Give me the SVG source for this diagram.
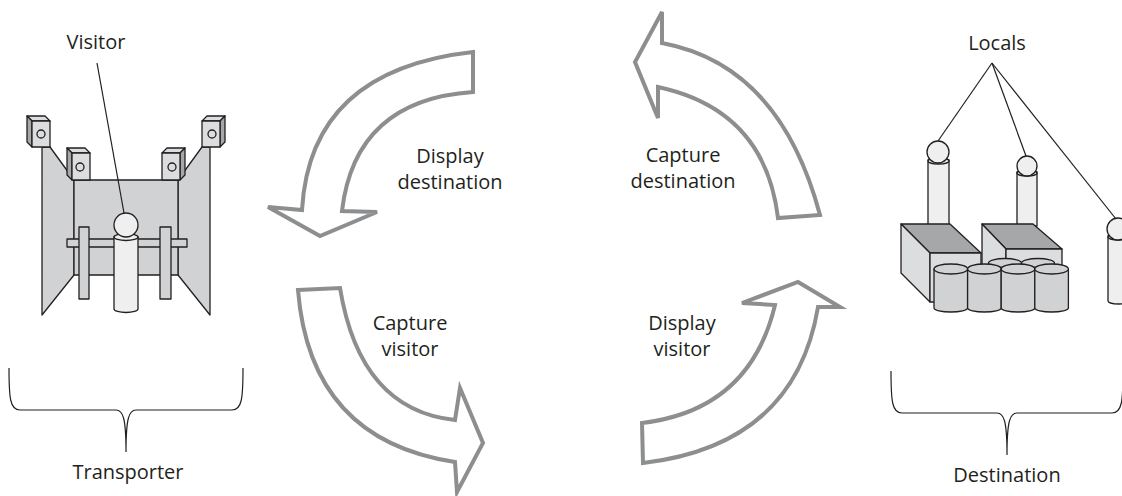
<svg xmlns="http://www.w3.org/2000/svg" width="1122" height="496" viewBox="0 0 1122 496">
<style>
text{font-family:"Open Sans","Liberation Sans",sans-serif;font-size:20px;fill:#231f20;text-anchor:middle}
.ln{fill:none;stroke:#231f20;stroke-width:1.2}
.pan{fill:#d1d2d4;stroke:#231f20;stroke-width:1.3;stroke-linejoin:round}
.lt{fill:#dcdddf;stroke:#231f20;stroke-width:1.3;stroke-linejoin:round}
.dk{fill:#a6a7a9;stroke:#231f20;stroke-width:1.3;stroke-linejoin:round}
.wh{fill:#efefef;stroke:#231f20;stroke-width:1.3}
.arr{fill:#fff;stroke:#8d8e90;stroke-width:4;stroke-linejoin:miter}
</style>
<rect width="1122" height="496" fill="#fff"/>

<g id="transporter">
  <polygon class="pan" points="42,147 50,147 74,180 74,275 42,315"/>
  <polygon class="pan" points="210,147 202,147 178,180 178,275 210,315"/>
  <rect class="pan" x="74" y="180" width="104" height="95"/>
  <!-- back-left camera -->
  <polygon class="lt" points="27,116 45,116 50,121 32,121"/>
  <polygon class="dk" points="27,116 32,121 32,147 27,142"/>
  <rect class="lt" x="32" y="121" width="18" height="26"/>
  <circle class="lt" cx="41" cy="134" r="4"/>
  <!-- front-left camera -->
  <polygon class="lt" points="67,148 85,148 90,153 72,153"/>
  <polygon class="dk" points="67,148 72,153 72,180 67,175"/>
  <rect class="lt" x="72" y="153" width="18" height="27"/>
  <circle class="lt" cx="80" cy="167" r="4"/>
  <!-- front-right camera -->
  <polygon class="lt" points="167,148 185,148 180,153 162,153"/>
  <polygon class="dk" points="180,153 185,148 185,175 180,180"/>
  <rect class="lt" x="162" y="153" width="18" height="27"/>
  <circle class="lt" cx="172" cy="167" r="4"/>
  <!-- back-right camera -->
  <polygon class="lt" points="207,116 225,116 220,121 202,121"/>
  <polygon class="dk" points="220,121 225,116 225,142 220,147"/>
  <rect class="lt" x="202" y="121" width="18" height="26"/>
  <circle class="lt" cx="212" cy="134" r="4"/>
  <!-- rail -->
  <rect class="pan" x="67" y="239" width="120" height="8"/>
  <rect class="pan" x="79" y="227" width="10" height="72"/>
  <rect class="pan" x="160" y="227" width="11" height="72"/>
  <!-- visitor -->
  <path class="wh" d="M114,237 L114,309 A12,3.5 0 0 0 138,309 L138,237 Z"/>
  <ellipse class="wh" cx="126" cy="237" rx="12" ry="3.5"/>
  <circle class="wh" cx="126" cy="225" r="12"/>
</g>

<g id="visitor-label">
  <text x="96" y="49">Visitor</text>
  <line class="ln" x1="97" y1="63" x2="124" y2="213"/>
</g>

<g id="destination">
  <!-- locals -->
  <rect class="wh" x="928" y="160" width="21" height="66"/>
  <ellipse class="wh" cx="938.5" cy="161" rx="10.5" ry="3"/>
  <circle class="wh" cx="938" cy="152" r="11"/>
  <rect class="wh" x="1017" y="172" width="20" height="54"/>
  <ellipse class="wh" cx="1027" cy="173" rx="10" ry="3"/>
  <circle class="wh" cx="1027" cy="166" r="10"/>
  <path class="wh" d="M1108,236 L1108,301 A11,3 0 0 0 1130,301 L1130,236 Z"/>
  <ellipse class="wh" cx="1119" cy="237" rx="11" ry="3"/>
  <circle class="wh" cx="1118" cy="229" r="11"/>
  <!-- box 1 -->
  <polygon class="dk" points="901,224 950,224 981,253 930,253"/>
  <polygon class="lt" points="901,224 930,253 930,302 901,273"/>
  <rect class="lt" x="930" y="253" width="51" height="49"/>
  <!-- box 2 -->
  <polygon class="dk" points="982,224 1033,224 1062,249 1006,249"/>
  <polygon class="lt" points="982,224 1006,249 1006,300 982,276"/>
  <rect class="lt" x="1006" y="249" width="56" height="51"/>
  <!-- back barrels -->
  <path class="pan" d="M988.5,263 L988.5,300 L1021.5,300 L1021.5,263 Z"/>
  <ellipse class="pan" cx="1005" cy="263" rx="16.5" ry="4.5"/>
  <path class="pan" d="M1021.5,263 L1021.5,300 L1054.5,300 L1054.5,263 Z"/>
  <ellipse class="pan" cx="1038" cy="263" rx="16.5" ry="4.5"/>
  <!-- front barrels -->
  <path class="pan" d="M934,269 L934,308 A16.8,4 0 0 0 967.6,308 L967.6,269 Z"/>
  <ellipse class="pan" cx="950.8" cy="269" rx="16.8" ry="5"/>
  <path class="pan" d="M967.6,269 L967.6,308 A16.8,4 0 0 0 1001.2,308 L1001.2,269 Z"/>
  <ellipse class="pan" cx="984.4" cy="269" rx="16.8" ry="5"/>
  <path class="pan" d="M1001.2,269 L1001.2,308 A16.8,4 0 0 0 1034.8,308 L1034.8,269 Z"/>
  <ellipse class="pan" cx="1018" cy="269" rx="16.8" ry="5"/>
  <path class="pan" d="M1034.8,269 L1034.8,308 A16.8,4 0 0 0 1068.4,308 L1068.4,269 Z"/>
  <ellipse class="pan" cx="1051.6" cy="269" rx="16.8" ry="5"/>
</g>

<g id="locals-label">
  <text x="997" y="50">Locals</text>
  <line class="ln" x1="992" y1="63" x2="938" y2="141"/>
  <line class="ln" x1="992" y1="63" x2="1026" y2="156"/>
  <line class="ln" x1="992" y1="63" x2="1116" y2="219"/>
</g>

<g id="transporter-brace">
  <path class="ln" d="M9,368 C9,398 10,410 20,410 L116,410 C123,410 126,418 126,452 C126,418 129,410 136,410 L232,410 C242,410 243,398 243,368"/>
  <text x="128" y="479">Transporter</text>
</g>

<g id="destination-brace">
  <path class="ln" d="M891,371 C891,401 892,413 902,413 L997,413 C1004,413 1007,421 1007,455 C1007,421 1010,413 1017,413 L1112,413 C1122,413 1123,401 1123,371"/>
  <text x="1007" y="482">Destination</text>
</g>

<g id="connectors">
  <path id="arrow-display-destination" class="arr" d="M473,52 Q310,70 302,210 L268,207 L320,236 L377,212 L342,211 Q355,100 473,92 Z"/>
  <path id="arrow-capture-destination" class="arr" d="M662,43 Q780,65 820,215 L778,218 Q765,110 658,87 L658,118 L635,62 L662,12 Z"/>
  <path id="arrow-capture-visitor" class="arr" d="M298,290 L340,288 Q360,410 455,420 L460,388 L483,443 L457,492 L455,462 Q310,440 298,290 Z"/>
  <path id="arrow-display-visitor" class="arr" d="M642,423 Q750,410 775,305 L742,303 L798,282 L840,307 L818,307 Q795,445 643,463 Z"/>
</g>

<g id="labels">
  <text x="450" y="163">Display</text>
  <text x="450" y="189">destination</text>
  <text x="683" y="162">Capture</text>
  <text x="683" y="188">destination</text>
  <text x="410" y="330">Capture</text>
  <text x="410" y="356">visitor</text>
  <text x="682" y="330">Display</text>
  <text x="682" y="356">visitor</text>
</g>
</svg>
